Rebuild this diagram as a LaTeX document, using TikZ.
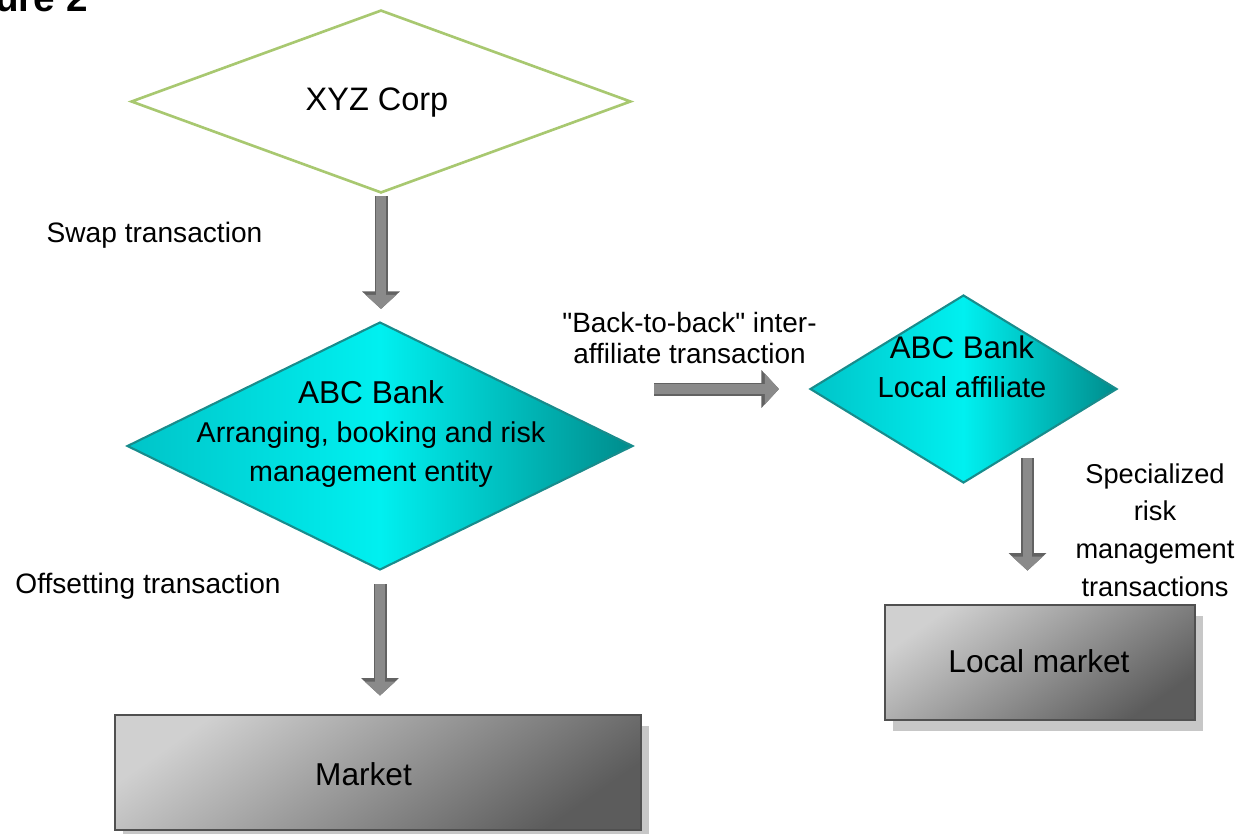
\documentclass[tikz,border=0pt]{standalone}
\usepackage{fontspec}
\setmainfont{Liberation Sans}[Ligatures=TeXOff]
\usetikzlibrary{shapes.geometric,arrows.meta,shadows,calc}
\definecolor{xyzgreen}{RGB}{168,200,112}
\definecolor{tealedge}{RGB}{24,140,140}
\definecolor{tealL}{RGB}{0,196,200}
\definecolor{tealM}{RGB}{0,240,240}
\definecolor{tealR}{RGB}{0,140,140}
\definecolor{arrowfill}{RGB}{138,138,138}
\definecolor{arrowedge}{RGB}{98,98,98}
\definecolor{boxlight}{RGB}{208,208,208}
\definecolor{boxdark}{RGB}{92,92,92}
\definecolor{boxedge}{RGB}{80,80,80}
\begin{document}
\begin{tikzpicture}[x=0.02cm,y=-0.02cm,
  lbl/.style={font=\fontsize{16}{17.6}\selectfont, inner sep=0pt, align=center},
  boxtext/.style={font=\fontsize{18}{22}\selectfont, inner sep=0pt},
  xyzdia/.style={diamond, draw=xyzgreen, line width=1.5pt, fill=white, inner sep=0pt},
  bankdia/.style={diamond, draw=tealedge, line width=1.2pt, left color=tealL, right color=tealR, middle color=tealM, inner sep=0pt},
  mktbox/.style={rectangle, draw=boxedge, line width=1.6pt, top color=boxlight, bottom color=boxdark, shading angle=35,
    drop shadow={shadow xshift=4.5pt, shadow yshift=-6pt, fill=black, opacity=0.22}, inner sep=0pt},
  fatarrow/.style={draw=arrowfill, line width=5.4pt, -{Triangle[width=17pt,length=8pt]},
    preaction={draw=arrowedge, line width=7.4pt, -{Triangle[width=21pt,length=10pt]}}},
]
\useasboundingbox (0,0) rectangle (1252,833);

% title (cut off at the top edge)
\node[font=\bfseries\fontsize{22}{26}\selectfont, anchor=base east, inner sep=0pt] (title) at (88,11) {Figure 2};

% shapes
\node[xyzdia, minimum width=10cm, minimum height=3.66cm] (xyz) at (381,101.5) {};
\node[bankdia, minimum width=10.12cm, minimum height=4.96cm] (abc) at (380,446) {};
\node[bankdia, minimum width=6.14cm, minimum height=3.76cm] (loc) at (963.5,389) {};
\node[mktbox, minimum width=10.52cm, minimum height=2.3cm] (mkt) at (378,772.5) {};
\node[mktbox, minimum width=6.2cm, minimum height=2.3cm] (lmkt) at (1040,662.5) {};

% texts in shapes
\node[boxtext, font=\fontsize{18.5}{22}\selectfont, anchor=base] (xyzt) at (377,110) {XYZ Corp};
\node[anchor=north, align=center, inner sep=0pt, font=\fontsize{16.3}{22.4}\selectfont] (abct) at (371,380)
  {{\fontsize{18}{22.4}\selectfont ABC Bank}\\Arranging, booking and risk\\management entity};
\node[anchor=north, align=center, inner sep=0pt, font=\fontsize{16.5}{22.7}\selectfont] (loct) at (962,335)
  {{\fontsize{17.8}{22.7}\selectfont ABC Bank}\\Local affiliate};
\node[boxtext, anchor=base] (mktt) at (363.5,785) {Market};
\node[boxtext, anchor=base] (lmktt) at (1039,672) {Local market};

% labels
\node[lbl, anchor=base] (swap) at (154.5,242) {Swap transaction};
\node[lbl, anchor=base] (off) at (148,593) {Offsetting transaction};
\node[lbl, anchor=north, font=\fontsize{15.9}{17.6}\selectfont] (b2b) at (689.5,311.5) {"Back-to-back" inter-\\affiliate transaction};
\node[lbl, anchor=north, font=\fontsize{15.5}{21.5}\selectfont] (spec) at (1155,463) {Specialized\\risk\\management\\transactions};

% arrows
\draw[fatarrow, shorten <=0.04cm, shorten >=0.24cm] (xyz.south) -- (xyz.south |- abc.north);
\draw[fatarrow, shorten <=0.26cm, shorten >=0.36cm] (abc.south) -- (abc.south |- mkt.north);
\draw[fatarrow, shorten <=0.4cm, shorten >=0.6cm] (abc.east |- loc.west) -- (loc.west);
\coordinate (lmA) at (1027.5,458);
\draw[fatarrow, shorten >=0.66cm] (lmA) -- (lmA |- lmkt.north);
\end{tikzpicture}
\end{document}
